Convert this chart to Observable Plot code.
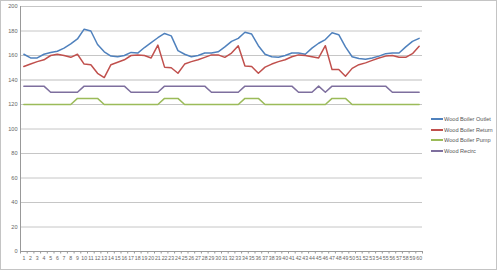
<!DOCTYPE html>
<html>
<head>
<meta charset="utf-8">
<script src="https://cdn.jsdelivr.net/npm/d3@7"></script>
<script src="https://cdn.jsdelivr.net/npm/@observablehq/plot@0.6"></script>
<style>
  html, body { margin: 0; padding: 0; background: #fff; }
  #wrap { position: relative; width: 497px; height: 270px; overflow: hidden; font-family: "Liberation Sans", Arial, sans-serif; }
  #border { position: absolute; left: 0; top: 0; width: 497px; height: 270px; box-sizing: border-box; border: 1px solid #c4c4c4; pointer-events: none; }
  #legend { position: absolute; left: 431px; top: 114px; font-size: 5.6px; color: #555; }
  #legend .row { display: flex; align-items: center; height: 10.5px; }
  #legend .sw { width: 12px; height: 1.6px; margin-right: 1px; }
</style>
</head>
<body>
<div id="wrap"><div id="chart"></div><div id="legend"></div><div id="border"></div></div>
<script>
const categories = d3.range(1, 61);
const seriesNames = ["Wood Boiler Outlet", "Wood Boiler Return", "Wood Boiler Pump", "Wood Recirc"];
const seriesColors = ["#4F81BD", "#C0504D", "#9BBB59", "#7E6F9E"];
const outlet = [161,158,158,161,162.5,163.5,166,169.5,173.5,181.5,180,169,163,159.5,159,160,162.5,162,166.5,170.5,174.5,178,176,164,161,159,160,162,162,163,167,171.5,174,179,177.5,168,161,159,158.5,160,162,162,161,166,170,173,178.5,177,167,159,157.5,157,158,159.5,161.5,162,162,167,171.5,174];
const ret = [151,153,155,156.5,160,161,160,158.5,161,153,152.5,145.5,142,152.5,154.5,156.5,160,160.5,160,158,168.5,150.5,150,145.5,153,155,156.5,158.5,160.5,160.5,158.5,162,168,151.5,151,145.5,150.5,153,155,156.5,159,160.5,160,159,158,168,148.5,148.5,143,149.5,152.5,154,156,158,159.5,160,158.5,158.5,161.5,167.5];
const pump = [120,120,120,120,120,120,120,120,125,125,125,125,120,120,120,120,120,120,120,120,120,125,125,125,120,120,120,120,120,120,120,120,120,125,125,125,120,120,120,120,120,120,120,120,120,120,125,125,125,120,120,120,120,120,120,120,120,120,120,120];
const recirc = [135,135,135,135,130,130,130,130,130,135,135,135,135,135,135,135,130,130,130,130,130,135,135,135,135,135,135,135,130,130,130,130,130,135,135,135,135,135,135,135,135,130,130,130,135,130,135,135,135,135,135,135,135,135,135,130,130,130,130,130];
const yTicks = d3.range(0, 201, 20);

const allSeries = [outlet, ret, pump, recirc];
const data = [];
allSeries.forEach((vals, s) => vals.forEach((v, i) => data.push({cat: categories[i], value: v, series: seriesNames[s]})));

const chart = Plot.plot({
  width: 497,
  height: 270,
  marginLeft: 20,
  marginRight: 75,
  marginTop: 6,
  marginBottom: 19,
  style: {fontFamily: "'Liberation Sans', Arial, sans-serif", background: "#fff", overflow: "visible"},
  x: {type: "linear", domain: [0.5, 60.5]},
  y: {domain: [0, 200]},
  color: {domain: seriesNames, range: seriesColors},
  marks: [
    Plot.gridY(yTicks.filter(t => t !== 140 && t !== 0), {stroke: "#c6c6c6", strokeOpacity: 1, strokeWidth: 1}),
    Plot.gridY([140], {stroke: "#dedede", strokeOpacity: 1, strokeWidth: 2.2}),
    Plot.axisY(yTicks, {tickSize: 0, tickPadding: 3, fontSize: 5.6, fill: "#666", label: null}),
    Plot.axisX(d3.range(0.5, 61, 1), {tickSize: 2.5, tickFormat: () => "", stroke: "#999", label: null}),
    Plot.axisX(categories, {tickSize: 0, tickPadding: 5, fontSize: 5.2, fill: "#666", label: null, tickFormat: d => String(d)}),
    Plot.ruleY([0], {stroke: "#999"}),
    Plot.ruleX([0.5], {stroke: "#999"}),
    Plot.line(data, {x: "cat", y: "value", z: "series", stroke: "series", strokeWidth: 1.5, curve: "linear"})
  ]
});
document.getElementById("chart").appendChild(chart);

const legend = document.getElementById("legend");
seriesNames.forEach((name, i) => {
  const row = document.createElement("div");
  row.className = "row";
  const sw = document.createElement("div");
  sw.className = "sw";
  sw.style.background = seriesColors[i];
  const t = document.createElement("span");
  t.textContent = name;
  row.appendChild(sw);
  row.appendChild(t);
  legend.appendChild(row);
});
</script>
</body>
</html>
